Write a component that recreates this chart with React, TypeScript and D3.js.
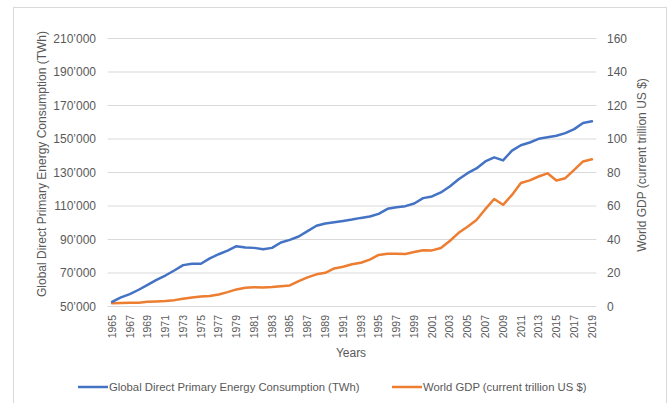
import React from "react";
import * as d3 from "d3";

const years: number[] = d3.range(1965, 2020);

const energy: number[] = [
  52800, 55400, 57400, 60000, 62900, 65900, 68500, 71500, 74700, 75500,
  75500, 78700, 81200, 83400, 86000, 85200, 85000, 84200, 85000, 88200,
  89800, 91800, 95000, 98200, 99600, 100300, 101100, 101900, 102900, 103700,
  105300, 108300, 109300, 109900, 111500, 114700, 115700, 118100, 121600, 126000,
  129600, 132400, 136600, 139000, 137200, 143100, 146300, 147900, 150100, 151100,
  151900, 153500, 155900, 159600, 160600,
];

const gdp: number[] = [
  2.0, 2.1, 2.2, 2.3, 2.8, 3.0, 3.3, 3.8, 4.6, 5.4,
  6.0, 6.3, 7.2, 8.6, 10.2, 11.2, 11.5, 11.4, 11.6, 12.1,
  12.6, 15.1, 17.4, 19.2, 20.1, 22.7, 23.7, 25.2, 26.1, 28.0,
  30.8, 31.5, 31.5, 31.4, 32.5, 33.6, 33.5, 34.9, 39.1, 44.0,
  47.6, 51.6, 58.1, 64.2, 60.7, 66.6, 73.7, 75.3, 77.6, 79.5,
  75.2, 76.6, 81.6, 86.6, 87.9,
];

const leftTicks: number[] = d3.range(50000, 210001, 20000);
const rightTicks: number[] = d3.range(0, 161, 20);
const xTickYears: number[] = years.filter((y) => (y - 1965) % 2 === 0);

const energyLabel = "Global Direct Primary Energy Consumption (TWh)";
const gdpLabel = "World GDP (current trillion US $)";
const xTitle = "Years";

const BLUE = "#4472C4";
const ORANGE = "#ED7D31";
const TEXT = "#595959";
const GRID = "#D9D9D9";
const FONT = "'Liberation Sans', Arial, sans-serif";

const locale = d3.formatLocale({
  decimal: ".",
  thousands: "\u2019",
  grouping: [3],
  currency: ["", ""],
});
const fmtLeft = locale.format(",");

export default function App() {
  const W = 670;
  const H = 403;
  const plot = { left: 107.6, right: 596.4, top: 38.5, bottom: 306.5 };

  const x = d3
    .scalePoint<number>()
    .domain(years)
    .range([plot.left, plot.right])
    .padding(0.5);
  const yL = d3.scaleLinear().domain([50000, 210000]).range([plot.bottom, plot.top]);
  const yR = d3.scaleLinear().domain([0, 160]).range([plot.bottom, plot.top]);

  const energyLine = d3
    .line<number>()
    .x((_, i) => x(years[i]) as number)
    .y((d) => yL(d));
  const gdpLine = d3
    .line<number>()
    .x((_, i) => x(years[i]) as number)
    .y((d) => yR(d));

  const legendY = 387;

  return (
    <svg
      width={W}
      height={H}
      style={{ position: "absolute", left: 0, top: 0, background: "#fff" }}
      fontFamily={FONT}
    >
      <rect x={13.5} y={7.5} width={653} height={410} fill="#fff" stroke="#D9D9D9" strokeWidth={1} />

      {leftTicks.map((t) => (
        <line
          key={"g" + t}
          x1={plot.left}
          x2={plot.right}
          y1={yL(t)}
          y2={yL(t)}
          stroke={GRID}
          strokeWidth={1}
        />
      ))}

      {leftTicks.map((t) => (
        <text
          key={"l" + t}
          x={96}
          y={yL(t)}
          dy="0.35em"
          textAnchor="end"
          fontSize={12}
          fill={TEXT}
        >
          {fmtLeft(t)}
        </text>
      ))}

      {rightTicks.map((t) => (
        <text
          key={"r" + t}
          x={607}
          y={yR(t)}
          dy="0.35em"
          textAnchor="start"
          fontSize={12}
          fill={TEXT}
        >
          {t}
        </text>
      ))}

      {xTickYears.map((yr) => (
        <text
          key={"x" + yr}
          transform={`translate(${x(yr)},315) rotate(-90)`}
          textAnchor="end"
          dy="0.35em"
          fontSize={10.5}
          fill={TEXT}
        >
          {yr}
        </text>
      ))}

      <text
        transform={`translate(42,164) rotate(-90)`}
        textAnchor="middle"
        dy="0.35em"
        fontSize={12}
        fill={TEXT}
      >
        {energyLabel}
      </text>
      <text
        transform={`translate(642,165) rotate(-90)`}
        textAnchor="middle"
        dy="0.35em"
        fontSize={12}
        fill={TEXT}
      >
        {gdpLabel}
      </text>
      <text x={351} y={357} textAnchor="middle" fontSize={12} fill={TEXT}>
        {xTitle}
      </text>

      <path d={gdpLine(gdp) || ""} fill="none" stroke={ORANGE} strokeWidth={2.5} strokeLinejoin="round" strokeLinecap="round" />
      <path d={energyLine(energy) || ""} fill="none" stroke={BLUE} strokeWidth={2.5} strokeLinejoin="round" strokeLinecap="round" />

      <line x1={78} x2={108} y1={legendY} y2={legendY} stroke={BLUE} strokeWidth={2.5} />
      <text x={109} y={legendY} dy="0.35em" fontSize={11.3} fill={TEXT}>
        {energyLabel}
      </text>
      <line x1={392} x2={422} y1={legendY} y2={legendY} stroke={ORANGE} strokeWidth={2.5} />
      <text x={423} y={legendY} dy="0.35em" fontSize={11.3} fill={TEXT}>
        {gdpLabel}
      </text>
    </svg>
  );
}
